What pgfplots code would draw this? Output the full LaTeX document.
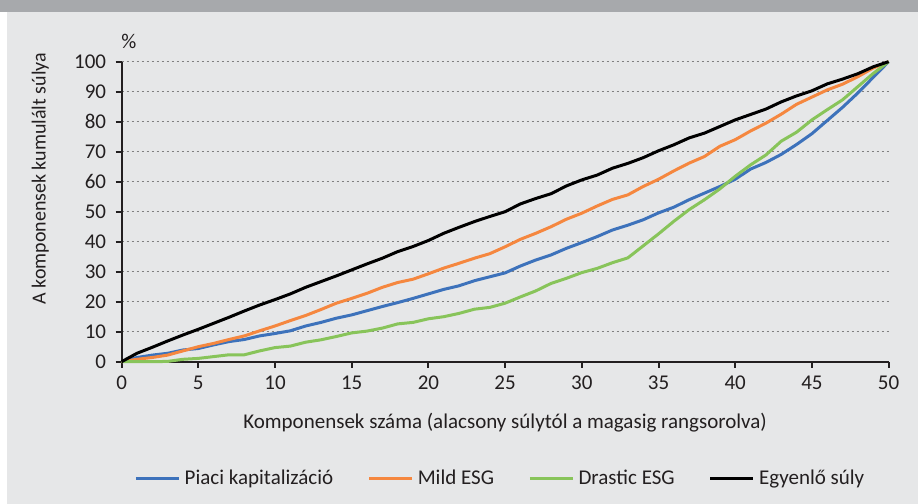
\documentclass[border=0pt]{standalone}
\usepackage{pgfplots}
\pgfplotsset{compat=1.18}
\usepackage{fontspec}
\setmainfont{Carlito}
\definecolor{bgc}{HTML}{E6E7E8}
\definecolor{bandc}{HTML}{A7A9AC}
\definecolor{axisc}{HTML}{231F20}
\definecolor{gridc}{HTML}{808080}
\definecolor{cblue}{HTML}{3D72BB}
\definecolor{corange}{HTML}{F5873F}
\definecolor{cgreen}{HTML}{88C45A}
\begin{document}
\begin{tikzpicture}
\fill[white] (0,0) rectangle (918bp,504bp);
\fill[bgc] (7bp,0) rectangle (918bp,492bp);
\fill[bandc] (0,492bp) rectangle (918bp,504bp);
\begin{axis}[
  at={(121.6bp,142.3bp)}, anchor=south west,
  scale only axis, width=767bp, height=300bp,
  xmin=0, xmax=50, ymin=0, ymax=100,
  axis x line*=bottom, axis y line*=left,
  axis line style={line width=2bp, color=axisc, -},
  tick align=outside, major tick length=6bp,
  tick style={line width=2bp, color=axisc},
  xtick={0,5,...,50}, ytick={0,10,...,100},
  ymajorgrids,
  grid style={dash pattern=on 2bp off 3bp, line width=1.3bp, color=gridc},
  /pgf/number format/assume math mode=true,
  tick label style={font=\fontsize{21bp}{25bp}\selectfont, text=axisc},
  xticklabel style={yshift=-5bp},
  yticklabel style={xshift=-6bp},
  label style={font=\fontsize{21bp}{25bp}\selectfont, text=axisc},
  xlabel={Komponensek száma (alacsony súlytól a magasig rangsorolva)},
  xlabel style={at={(axis description cs:0.5,-0.203)}, anchor=center},
  ylabel={A komponensek kumulált súlya},
  ylabel style={at={(axis description cs:-0.106,0.61)}, anchor=center, font=\fontsize{20bp}{24bp}\selectfont},
  legend columns=4,
  legend style={draw=none, fill=none, at={(0.495,-0.389)}, anchor=center,
    font=\fontsize{21bp}{25bp}\selectfont, text=axisc,
    /tikz/every even column/.append style={column sep=30bp},
    nodes={inner sep=4bp}},
  legend image code/.code={\draw[line width=3.5bp] (0bp,0bp) -- (43bp,0bp);},
  every axis plot/.append style={line width=3bp, no markers, line join=round},
  clip=false,
]
\addplot[cblue] coordinates {
(0,0)(1,1.4)(2,2.2)(3,2.8)(4,3.9)(5,4.4)(6,5.6)(7,6.7)(8,7.4)(9,8.6)(10,9.4)
(11,10.3)(12,11.9)(13,13.1)(14,14.5)(15,15.6)(16,17)(17,18.4)(18,19.7)(19,21.1)(20,22.6)
(21,24.1)(22,25.3)(23,27)(24,28.3)(25,29.6)(26,31.9)(27,33.9)(28,35.6)(29,37.8)(30,39.7)
(31,41.7)(32,43.9)(33,45.5)(34,47.3)(35,49.6)(36,51.5)(37,54)(38,56.2)(39,58.4)(40,60.8)
(41,64.2)(42,66.4)(43,69.1)(44,72.4)(45,76)(46,80.4)(47,84.8)(48,89.6)(49,94.8)(50,100)};
\addlegendentry{Piaci kapitalizáció}
\addplot[corange] coordinates {
(0,0)(1,0.8)(2,1.4)(3,2.2)(4,3.6)(5,5)(6,6.1)(7,7.4)(8,8.6)(9,10.3)(10,11.9)
(11,13.7)(12,15.4)(13,17.4)(14,19.5)(15,21.1)(16,22.8)(17,24.8)(18,26.4)(19,27.5)(20,29.3)
(21,31.2)(22,32.8)(23,34.5)(24,36)(25,38.3)(26,40.8)(27,42.8)(28,45)(29,47.5)(30,49.5)
(31,51.9)(32,54.1)(33,55.6)(34,58.4)(35,60.8)(36,63.6)(37,66.2)(38,68.4)(39,71.8)(40,74)
(41,76.9)(42,79.5)(43,82.5)(44,85.8)(45,88.2)(46,90.6)(47,92.5)(48,95)(49,97.9)(50,100)};
\addlegendentry{Mild ESG}
\addplot[cgreen] coordinates {
(0,0)(1,0)(2,0)(3,0.1)(4,0.8)(5,1.1)(6,1.7)(7,2.3)(8,2.3)(9,3.6)(10,4.7)
(11,5.2)(12,6.5)(13,7.3)(14,8.4)(15,9.6)(16,10.2)(17,11.2)(18,12.6)(19,13.1)(20,14.3)
(21,15)(22,16.1)(23,17.5)(24,18.1)(25,19.5)(26,21.6)(27,23.6)(28,26.1)(29,27.8)(30,29.7)
(31,31.1)(32,33)(33,34.6)(34,38.6)(35,42.6)(36,46.8)(37,50.7)(38,54)(39,57.6)(40,61.8)
(41,65.6)(42,68.9)(43,73.5)(44,76.5)(45,80.6)(46,84)(47,87.3)(48,91.7)(49,96.1)(50,100)};
\addlegendentry{Drastic ESG}
\addplot[black] coordinates {
(0,0)(1,2.8)(2,4.8)(3,6.9)(4,8.9)(5,10.8)(6,12.8)(7,14.8)(8,16.9)(9,18.9)(10,20.7)
(11,22.6)(12,24.8)(13,26.7)(14,28.6)(15,30.6)(16,32.6)(17,34.5)(18,36.7)(19,38.4)(20,40.4)
(21,42.8)(22,44.8)(23,46.7)(24,48.4)(25,50)(26,52.6)(27,54.4)(28,56)(29,58.6)(30,60.6)
(31,62.2)(32,64.5)(33,66.1)(34,68)(35,70.3)(36,72.3)(37,74.6)(38,76.2)(39,78.4)(40,80.6)
(41,82.4)(42,84.2)(43,86.6)(44,88.6)(45,90.3)(46,92.6)(47,94.2)(48,96)(49,98.3)(50,100)};
\addlegendentry{Egyenlő súly}
\node[font=\fontsize{21bp}{25bp}\selectfont, text=axisc] at (rel axis cs:0.0096,1.069) {\%};
\end{axis}
\pgfresetboundingbox
\path[use as bounding box] (0,0) rectangle (918bp,504bp);
\end{tikzpicture}
\end{document}
